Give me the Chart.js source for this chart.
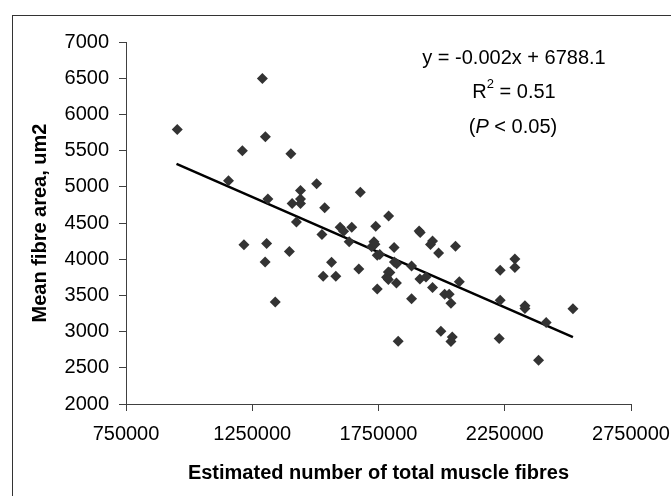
<!DOCTYPE html>
<html>
<head>
<meta charset="utf-8">
<script src="https://cdn.jsdelivr.net/npm/chart.js@4/dist/chart.umd.min.js"></script>
<style>
  html, body { margin: 0; padding: 0; background: #ffffff; }
  #wrap { position: relative; width: 671px; height: 496px; overflow: hidden; }
  canvas { position: absolute; left: 0; top: 0; }
</style>
</head>
<body>
<div id="wrap">
  <canvas id="c" width="671" height="496"></canvas>
</div>
<script>
// Estimated number of total muscle fibres
const fibreCount = [
  953000, 1290000, 1302000, 1211000, 1403000, 1156000, 1505000, 1678000, 1441000, 1312000,
  1441000, 1408000, 1441000, 1537000, 1425000, 1526000, 1598000, 1612000, 1644000, 1634000,
  1790000, 1739000, 1732000, 1723000, 1736000, 1745000, 1755000, 1812000, 1217000, 1307000,
  1301000, 1397000, 1564000, 1531000, 1581000, 1672000, 1341000, 1745000, 1789000, 1795000,
  1782000, 1789000, 1813000, 1822000, 1821000, 1881000, 1881000, 1911000, 1915000, 1964000,
  1956000, 1988000, 2055000, 1914000, 1938000, 1964000, 2012000, 2030000, 2037000, 2070000,
  1997000, 1828000, 2042000, 2037000, 2228000, 2232000, 2290000, 2290000, 2232000, 2330000,
  2330000, 2414000, 2384000, 2520000
];
// Mean fibre area, um2
const meanArea = [
  5790, 6495, 5690, 5497, 5455, 5082, 5042, 4925, 4948, 4830,
  4830, 4770, 4770, 4712, 4513, 4342, 4440, 4385, 4440, 4240,
  4596, 4456, 4240, 4172, 4205, 4055, 4065, 4162, 4198, 4217,
  3960, 4105, 3957, 3764, 3764, 3865, 3410, 3590, 3822, 3815,
  3752, 3718, 3960, 3938, 3670, 3906, 3455, 4388, 4370, 4252,
  4203, 4085, 4180, 3727, 3755, 3608, 3515, 3515, 3390, 3690,
  3006, 2865, 2925, 2862, 2906, 3847, 4003, 3886, 3432, 3357,
  3318, 3124, 2605, 3316
];
// Linear trend line end points
const trendX = [950000, 2520000];
const trendY = [5318, 2923];

const xTicks = [750000, 1250000, 1750000, 2250000, 2750000];
const yTicks = [2000, 2500, 3000, 3500, 4000, 4500, 5000, 5500, 6000, 6500, 7000];

const xTitle = 'Estimated number of total muscle fibres';
const yTitle = 'Mean fibre area, um2';
const eqLine = 'y = -0.002x + 6788.1';
const r2Value = '0.51';
const pText = '0.05';

const FONT = "'Liberation Sans', Arial, sans-serif";

const framePlugin = {
  id: 'frame',
  beforeDraw(chart) {
    const ctx = chart.ctx;
    ctx.save();
    ctx.strokeStyle = '#333';
    ctx.lineWidth = 1;
    ctx.strokeRect(12.5, 15.5, 700, 520);
    ctx.restore();
  }
};

const annotationPlugin = {
  id: 'annot',
  afterDraw(chart) {
    const ctx = chart.ctx;
    ctx.save();
    ctx.fillStyle = '#000';
    ctx.textBaseline = 'alphabetic';
    ctx.font = '20px ' + FONT;
    ctx.textAlign = 'center';
    ctx.fillText(eqLine, 514, 64);

    // R^2 line
    const p1 = 'R', p3 = ' = ' + r2Value;
    ctx.textAlign = 'left';
    ctx.font = '20px ' + FONT;
    const wR = ctx.measureText(p1).width;
    const w3 = ctx.measureText(p3).width;
    ctx.font = '13px ' + FONT;
    const w2 = ctx.measureText('2').width;
    let x = 514 - (wR + w2 + w3) / 2;
    ctx.font = '20px ' + FONT;
    ctx.fillText(p1, x, 98);
    ctx.font = '13px ' + FONT;
    ctx.fillText('2', x + wR, 88);
    ctx.font = '20px ' + FONT;
    ctx.fillText(p3, x + wR + w2, 98);

    // (P < 0.05)
    const a = '(', b = 'P', c = ' < ' + pText + ')';
    ctx.font = '20px ' + FONT;
    const wa = ctx.measureText(a).width;
    const wc = ctx.measureText(c).width;
    ctx.font = 'italic 20px ' + FONT;
    const wb = ctx.measureText(b).width;
    x = 513 - (wa + wb + wc) / 2;
    ctx.font = '20px ' + FONT;
    ctx.fillText(a, x, 133);
    ctx.font = 'italic 20px ' + FONT;
    ctx.fillText(b, x + wa, 133);
    ctx.font = '20px ' + FONT;
    ctx.fillText(c, x + wa + wb, 133);
    ctx.restore();
  }
};

new Chart(document.getElementById('c'), {
  type: 'scatter',
  data: {
    datasets: [
      {
        label: 'data',
        data: fibreCount.map((v, i) => ({ x: v, y: meanArea[i] })),
        pointStyle: 'rectRot',
        pointRadius: 5.5,
        pointBackgroundColor: '#333333',
        pointBorderColor: '#333333',
        pointBorderWidth: 0,
        showLine: false
      },
      {
        label: 'trend',
        type: 'line',
        data: trendX.map((v, i) => ({ x: v, y: trendY[i] })),
        borderColor: '#000000',
        borderWidth: 2.5,
        pointRadius: 0,
        fill: false
      }
    ]
  },
  options: {
    responsive: false,
    animation: false,
    devicePixelRatio: 1,
    layout: { padding: { left: 0, top: 42, right: 40, bottom: 0 } },
    plugins: { legend: { display: false }, tooltip: { enabled: false } },
    scales: {
      x: {
        type: 'linear',
        min: 750000, max: 2750000,
        afterBuildTicks: s => { s.ticks = xTicks.map(v => ({ value: v })); },
        afterFit: s => { s.height = 92; s.paddingLeft = 0; s.paddingRight = 0; },
        ticks: {
          color: '#000', font: { family: FONT, size: 20 }, padding: 11,
          maxRotation: 0, autoSkip: false,
          callback: v => String(v)
        },
        grid: { drawOnChartArea: false, drawTicks: true, tickLength: 7, color: '#404040', lineWidth: 1 },
        border: { display: true, color: '#404040', width: 1 },
        title: { display: true, text: xTitle, color: '#000', font: { family: FONT, size: 20, weight: 'bold' }, padding: { top: 0, bottom: 11 } }
      },
      y: {
        type: 'linear',
        min: 2000, max: 7000,
        afterBuildTicks: s => { s.ticks = yTicks.map(v => ({ value: v })); },
        afterFit: s => { s.width = 126; s.paddingTop = 0; s.paddingBottom = 0; },
        ticks: {
          color: '#000', font: { family: FONT, size: 20 }, padding: 10,
          autoSkip: false,
          callback: v => String(v)
        },
        grid: { drawOnChartArea: false, drawTicks: true, tickLength: 7, color: '#404040', lineWidth: 1 },
        border: { display: true, color: '#404040', width: 1 },
        title: { display: true, text: yTitle, color: '#000', font: { family: FONT, size: 20, weight: 'bold' }, padding: { top: 28, bottom: 0 } }
      }
    }
  },
  plugins: [framePlugin, annotationPlugin]
});
</script>
</body>
</html>
